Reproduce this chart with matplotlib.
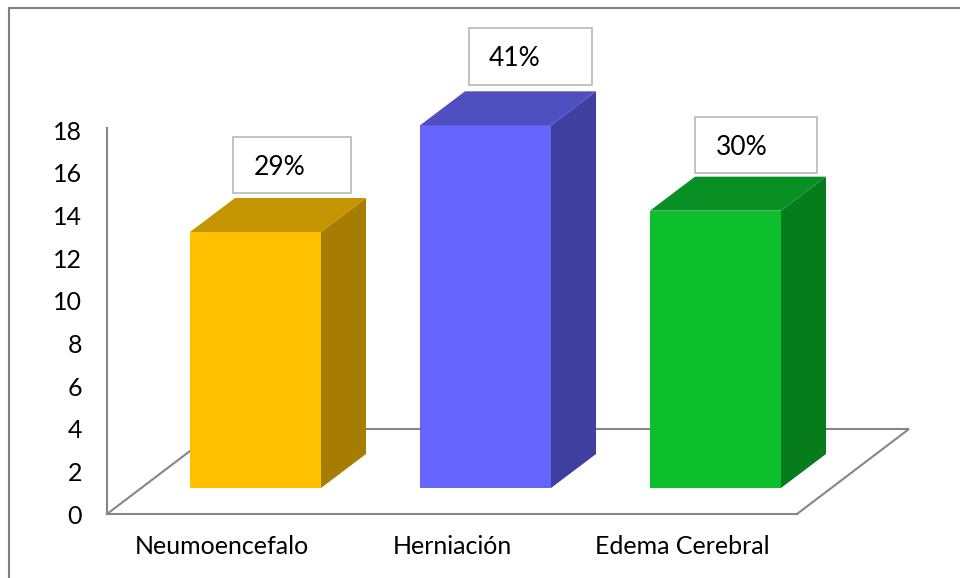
import matplotlib
matplotlib.use('Agg')
import matplotlib.pyplot as plt
from matplotlib.patches import Polygon, Rectangle

plt.rcParams['font.family'] = ['Lato', 'DejaVu Sans']

categories = ['Neumoencefalo', 'Herniación', 'Edema Cerebral']
values = [12, 17, 13]
percent_labels = ['29%', '41%', '30%']
y_ticks = [0, 2, 4, 6, 8, 10, 12, 14, 16, 18]

front_colors = ['#FFC000', '#6666FF', '#0BBF2D']
side_colors = ['#A67D00', '#3F3FA0', '#077C1D']
top_colors = ['#C49500', '#4F4FBF', '#089024']

# label boxes, in image pixels: left, top, right, bottom
label_boxes = [(233, 137, 351, 193), (469, 28, 592, 85), (695, 117, 817, 173)]
label_text_x = [254, 489, 716]

W, H = 960, 578
LINE = '#868686'

fig = plt.figure(figsize=(W / 100, H / 100), dpi=100)

# pixel overlay for the outer frame and the text boxes
bg = fig.add_axes([0, 0, 1, 1], zorder=5)
bg.set_xlim(0, W)
bg.set_ylim(H, 0)
bg.axis('off')
bg.plot([9, 9, W], [H, 8, 8], color='#7f7f7f', lw=1.5, solid_joinstyle='miter')

for box, x_txt, txt in zip(label_boxes, label_text_x, percent_labels):
    l, t, r, b = box
    bg.add_patch(Rectangle((l, t), r - l, b - t, fc='white', ec='#BDBDBD', lw=1.3))
    bg.text(x_txt, (t + b) / 2 + 2.5, txt, fontsize=19, color='black', ha='left', va='center')

# chart axes: value scale runs 514 -> 130 px, x axis 107 -> 797 px
ax = fig.add_axes([107 / W, 1 - 514 / H, 690 / W, 384 / H])
ax.set_xlim(-0.5, 2.5)
ax.set_ylim(0, 18)
ax.patch.set_alpha(0)

px_x = 3 / 690
px_y = 18 / 384

bar_w = 131 * px_x
bar_shift = 33.5 * px_x   # front face sits back from the category centre
lift = 26 * px_y          # and above the floor's front edge
dx = 45 * px_x
dy = 34 * px_y

# floor
floor_dx = 112 * px_x
floor_dy = 85 * px_y
ax.plot([-0.5, -0.5 + floor_dx, 2.5 + floor_dx, 2.5],
        [0, floor_dy, floor_dy, 0], color=LINE, lw=1.5, clip_on=False, zorder=1,
        solid_joinstyle='miter')

# bars
xs = list(range(len(categories)))
bars = ax.bar([x + bar_shift for x in xs], values, width=bar_w, bottom=lift,
              color=front_colors, zorder=3)
for b in bars:
    b.set_clip_on(False)
for x, v, cs, ct in zip(xs, values, side_colors, top_colors):
    x0 = x + bar_shift - bar_w / 2
    x1 = x + bar_shift + bar_w / 2
    y0 = lift
    y1 = lift + v
    ax.add_patch(Polygon([(x1, y0), (x1 + dx, y0 + dy), (x1 + dx, y1 + dy), (x1, y1)],
                         fc=cs, ec='none', zorder=3, clip_on=False))
    ax.add_patch(Polygon([(x0, y1), (x0 + dx, y1 + dy), (x1 + dx, y1 + dy), (x1, y1)],
                         fc=ct, ec='none', zorder=3, clip_on=False))

for s in ['top', 'right']:
    ax.spines[s].set_visible(False)
for s in ['left', 'bottom']:
    ax.spines[s].set_color(LINE)
    ax.spines[s].set_linewidth(1.5)
ax.spines['left'].set_bounds(0, 18.1)

ax.set_yticks(y_ticks)
ax.set_xticks(xs)
ax.set_xticklabels(categories)
ax.tick_params(axis='y', length=0, pad=18, labelsize=18)
ax.tick_params(axis='x', length=0, pad=15, labelsize=18)

fig.savefig('out.png', dpi=100)
